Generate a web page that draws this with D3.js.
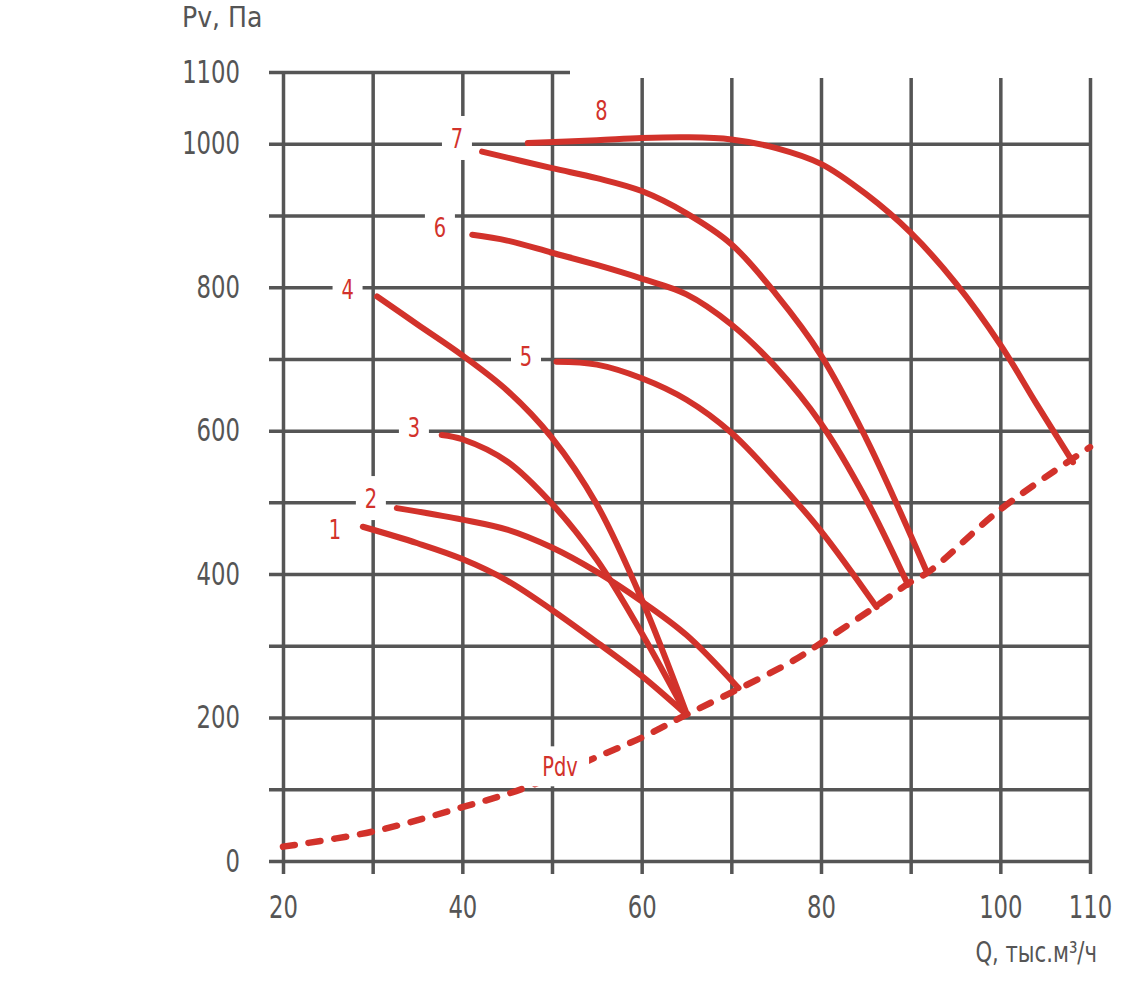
<!DOCTYPE html>
<html>
<head>
<meta charset="utf-8">
<script src="https://cdn.jsdelivr.net/npm/d3@7"></script>
<style>
  body { margin: 0; background: #fff; }
  text { font-family: "DejaVu Sans Condensed", "DejaVu Sans", sans-serif; }
  .tick text { fill: #555; font-size: 32px; }
  .axis-title { fill: #555; font-size: 28px; }
  .curve { fill: none; stroke: #d2322b; stroke-width: 6; stroke-linecap: round; stroke-linejoin: round; }
  .pdv { fill: none; stroke: #d2322b; stroke-width: 6.5; stroke-linecap: round; stroke-dasharray: 12 14; }
  .curve-label { fill: #d2322b; font-size: 27px; }
</style>
</head>
<body>
<svg width="1140" height="983"></svg>
<script>
const svg = d3.select('svg');
const width = +svg.attr('width');
const height = +svg.attr('height');

// fan curves, Q in thousand m3/h, P in Pa
const q1 = [28.9, 35, 40, 45, 50, 55, 60, 65];
const p1 = [466, 443, 421, 391, 350, 305, 258, 204];
const q2 = [32.7, 40, 45, 50, 55, 60, 65, 70.8];
const p2 = [492, 476, 462, 437, 403, 362, 315, 241];
const q3 = [37.7, 40, 45, 50, 55, 60, 65];
const p3 = [594, 588, 557, 498, 420, 318, 204];
const q4 = [30.5, 35, 40, 45, 50, 55, 60, 65];
const p4 = [787, 748, 705, 656, 590, 497, 365, 206];
const q5 = [50.5, 55, 60, 65, 70, 75, 80, 86.2];
const p5 = [696, 692, 673, 643, 597, 532, 460, 354];
const q6 = [41.1, 45, 50, 55, 60, 65, 70, 75, 80, 85, 89.7];
const p6 = [873, 865, 848, 831, 812, 790, 748, 688, 610, 505, 385];
const q7 = [42.2, 50, 55, 60, 65, 70, 75, 80, 85, 88, 91.8];
const p7 = [989, 966, 952, 934, 903, 860, 790, 705, 590, 510, 403];
const q8 = [47.3, 55, 60, 65, 70, 75, 80, 85, 90, 95, 100, 104, 108.1];
const p8 = [1001, 1005, 1008, 1009, 1006, 994, 972, 930, 876, 806, 720, 638, 556];

// dynamic pressure line
const qPdv = [20, 30, 40, 47, 55, 60, 65, 71, 77, 80, 86, 90, 92, 100, 110];
const pPdv = [20, 41, 75, 102, 145, 172, 204, 241, 280, 304, 354, 389, 403, 490, 577];

const curveNames = ['1', '2', '3', '4', '5', '6', '7', '8'];
const curveQ = [q1, q2, q3, q4, q5, q6, q7, q8];
const curveP = [p1, p2, p3, p4, p5, p6, p7, p8];
// where each number sits (data units)
const labelQ = [25.8, 29.8, 34.6, 27.2, 47.1, 37.5, 39.4, 55.5];
const labelP = [462, 506, 604, 797, 704, 883, 1008, 1047];
const pdvLabel = {name: 'Pdv', q: 50.9, p: 132};

const xTickLabels = [20, 40, 60, 80, 100, 110];
const yTickLabels = [0, 200, 400, 600, 800, 1000, 1100];
const xGrid = d3.range(20, 111, 10);
const yGrid = d3.range(0, 1101, 100);

const xAxisLabel = 'Q, тыс.м³/ч';
const yAxisLabel = 'Pv, Па';

const margin = {top: 72, right: 50, bottom: 122, left: 283};
const innerWidth = width - margin.left - margin.right;
const innerHeight = height - margin.top - margin.bottom;

const xScale = d3.scaleLinear().domain([20, 110]).range([0, innerWidth]);
const yScale = d3.scaleLinear().domain([0, 1100]).range([innerHeight, 0]);

// squeeze text horizontally to look like the condensed original face
const condense = (sel, k) => sel.each(function () {
    const w = this.getComputedTextLength();
    if (w > 0) {
        d3.select(this)
            .attr('textLength', w * k)
            .attr('lengthAdjust', 'spacingAndGlyphs');
    }
});

const g = svg.append('g')
    .attr('transform', `translate(${margin.left},${margin.top})`);

const gridColor = '#555';

// y grid + labels
const yAxis = d3.axisLeft(yScale)
    .tickValues(yGrid)
    .tickSize(-(innerWidth + 14))
    .tickPadding(29)
    .tickFormat(d => yTickLabels.includes(d) ? d : '');
const yAxisG = g.append('g')
    .attr('transform', 'translate(-14,0)')
    .call(yAxis);
yAxisG.select('.domain').remove();
yAxisG.selectAll('line').attr('stroke', gridColor).attr('stroke-width', 3.5);
yAxisG.selectAll('text').filter(function () { return this.textContent === ''; }).remove();
condense(yAxisG.selectAll('text'), 0.79);

// x grid + labels
const xAxis = d3.axisBottom(xScale)
    .tickValues(xGrid)
    .tickSize(-(innerHeight + 13))
    .tickPadding(21)
    .tickFormat(d => xTickLabels.includes(d) ? d : '');
const xAxisG = g.append('g')
    .attr('transform', `translate(0,${innerHeight + 13})`)
    .call(xAxis);
xAxisG.select('.domain').remove();
xAxisG.selectAll('line').attr('stroke', gridColor).attr('stroke-width', 3.5);
xAxisG.selectAll('text').filter(function () { return this.textContent === ''; }).remove();
condense(xAxisG.selectAll('text'), 0.79);

// white patch over top right corner of grid
svg.append('rect')
    .attr('x', 570).attr('y', 0)
    .attr('width', width - 570).attr('height', margin.top + 6)
    .attr('fill', '#fff');

svg.append('text')
    .attr('class', 'axis-title')
    .attr('x', 182).attr('y', 27)
    .text(yAxisLabel);

svg.append('text')
    .attr('class', 'axis-title')
    .attr('x', 1097).attr('y', 962)
    .attr('text-anchor', 'end')
    .text(xAxisLabel)
    .call(condense, 0.84);

const lineGenerator = d3.line()
    .x(d => xScale(d[0]))
    .y(d => yScale(d[1]))
    .curve(d3.curveCatmullRom.alpha(0.5));

curveQ.forEach((qs, i) => {
    const pts = qs.map((q, j) => [q, curveP[i][j]]);
    g.append('path')
        .attr('class', 'curve')
        .attr('d', lineGenerator(pts));
});

g.append('path')
    .attr('class', 'pdv')
    .attr('d', lineGenerator(qPdv.map((q, j) => [q, pPdv[j]])));

// labels with white boxes
const addLabel = (name, q, p, w, h) => {
    const cx = xScale(q);
    const cy = yScale(p);
    g.append('rect')
        .attr('x', cx - w / 2).attr('y', cy - h / 2)
        .attr('width', w).attr('height', h)
        .attr('fill', '#fff');
    g.append('text')
        .attr('class', 'curve-label')
        .attr('x', cx).attr('y', cy)
        .attr('dy', '0.36em')
        .attr('text-anchor', 'middle')
        .text(name)
        .call(condense, 0.8);
};

curveNames.forEach((name, i) => addLabel(name, labelQ[i], labelP[i], 30, 44));
addLabel(pdvLabel.name, pdvLabel.q, pdvLabel.p, 58, 40);
</script>
</body>
</html>
